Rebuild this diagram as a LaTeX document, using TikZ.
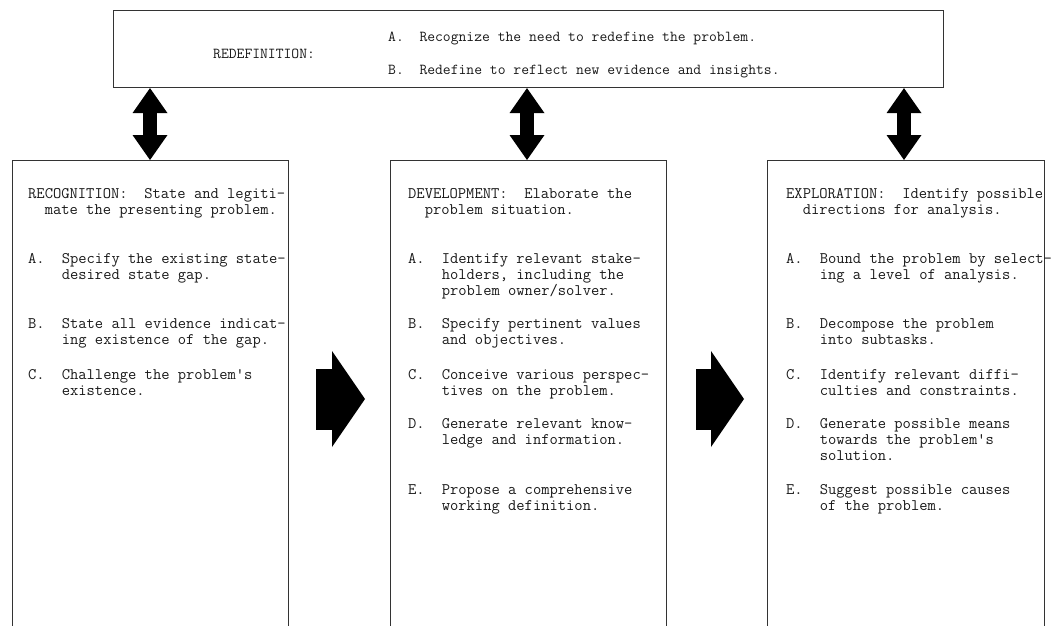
\documentclass[tikz,border=0pt]{standalone}
\usepackage{fontspec}
\usetikzlibrary{arrows.meta,calc}
\newcommand\mlines[1]{\begin{tabular}[t]{@{}l@{}}#1\end{tabular}}
\newcommand\mkitem[5]{%
  \node[txt] (#1l) at (#2,#3) {#4.};
  \node[txt] (#1) at (#2+33.6,#3) {\mlines{#5}};}
\begin{document}
\begin{tikzpicture}[x=1pt,y=-1pt,
  box/.style={draw=black!80, line width=1.1pt, rectangle, inner sep=0pt, anchor=north west},
  txt/.style={font=\ttfamily\fontsize{16.1}{16}\selectfont\addfontfeature{FakeBold=0.5}, text=black!90, inner sep=0pt, anchor=base west},
  ttxt/.style={font=\ttfamily\fontsize{15.2}{16}\selectfont\addfontfeature{FakeBold=0.5}, text=black!90, inner sep=0pt, anchor=base west},
  dbl/.style={line width=14pt, >={Triangle[width=35pt,length=25pt,line width=0pt]}, <->},
  blk/.style={line width=61pt, >={Triangle[width=96pt,length=33pt,line width=0pt]}, ->}
]
\useasboundingbox (0,0) rectangle (1053,626);
\clip (0,0) rectangle (1053,626);
% boxes
\node[box, minimum width=830pt, minimum height=77pt] (redef) at (113,10) {};
\node[box, minimum width=276pt, minimum height=466pt] (rec) at (12,160) {};
\node[box, minimum width=276pt, minimum height=466pt] (dev) at (390,160) {};
\node[box, minimum width=277pt, minimum height=466pt] (exp) at (767,160) {};
% top text
\node[ttxt] (redefh) at (213,59) {REDEFINITION:};
\node[ttxt] (redefa) at (388,42) {A.~~Recognize the need to redefine the problem.};
\node[ttxt] (redefb) at (388,75) {B.~~Redefine to reflect new evidence and insights.};
% double arrows
\coordinate (x1) at (150,0);
\coordinate (x2) at (527,0);
\coordinate (x3) at (904,0);
\draw[dbl] (redef.south -| x1) -- (rec.north -| x1);
\draw[dbl] (redef.south -| x2) -- (dev.north -| x2);
\draw[dbl] (redef.south -| x3) -- (exp.north -| x3);
% block arrows
\coordinate (b1s) at (316,399);
\coordinate (b1e) at (365,399);
\coordinate (b2s) at (696,399);
\coordinate (b2e) at (744,399);
\draw[blk] (b1s) -- (b1e);
\draw[blk] (b2s) -- (b2e);
% recognition
\node[txt] (rech) at (28,198) {\mlines{RECOGNITION:~~State and legiti-\\~~mate the presenting problem.}};
\mkitem{reca}{28}{263}{A}{Specify the existing state-\\desired state gap.}
\mkitem{recb}{28}{328}{B}{State all evidence indicat-\\ing existence of the gap.}
\mkitem{recc}{28}{379}{C}{Challenge the problem's\\existence.}
% development
\node[txt] (devh) at (408,198) {\mlines{DEVELOPMENT:~~Elaborate the\\~~problem situation.}};
\mkitem{deva}{408}{263}{A}{Identify relevant stake-\\holders, including the\\problem owner/solver.}
\mkitem{devb}{408}{328}{B}{Specify pertinent values\\and objectives.}
\mkitem{devc}{408}{379}{C}{Conceive various perspec-\\tives on the problem.}
\mkitem{devd}{408}{428}{D}{Generate relevant know-\\ledge and information.}
\mkitem{deve}{408}{494}{E}{Propose a comprehensive\\working definition.}
% exploration
\node[txt] (exph) at (786,198) {\mlines{EXPLORATION:~~Identify possible\\~~directions for analysis.}};
\mkitem{expa}{786}{263}{A}{Bound the problem by select-\\ing a level of analysis.}
\mkitem{expb}{786}{328}{B}{Decompose the problem\\into subtasks.}
\mkitem{expc}{786}{379}{C}{Identify relevant diffi-\\culties and constraints.}
\mkitem{expd}{786}{428}{D}{Generate possible means\\towards the problem's\\solution.}
\mkitem{expe}{786}{494}{E}{Suggest possible causes\\of the problem.}
\end{tikzpicture}
\end{document}
